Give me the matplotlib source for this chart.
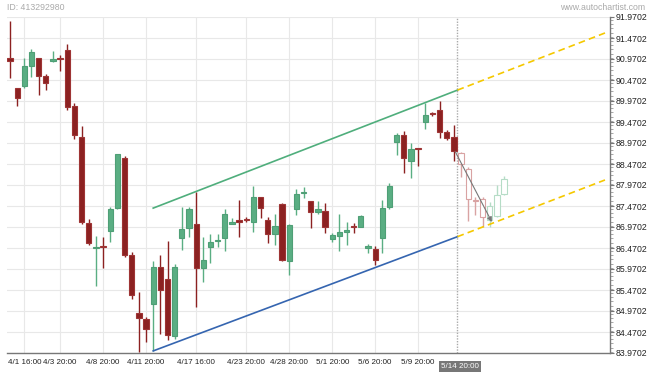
import matplotlib
matplotlib.use("Agg")
import matplotlib.pyplot as plt
import numpy as np
from matplotlib.ticker import MultipleLocator

plt.rcParams['font.family'] = ['Liberation Sans', 'DejaVu Sans']

# ---------------- data ----------------
opens = [90.99, 90.28, 90.33, 90.80, 90.99, 90.57, 90.93, 90.99, 91.18, 89.85,
         89.11, 87.07, 86.46, 86.51, 86.88, 87.42, 88.61, 86.30, 84.92, 84.78,
         85.14, 86.02, 85.73, 84.38, 86.71, 86.95, 87.04, 85.99, 86.49, 86.63,
         86.71, 87.05, 87.13, 87.15, 87.09, 87.69, 87.14, 86.80, 87.52, 86.16,
         87.40, 87.77, 87.59, 87.33, 87.35, 86.69, 86.76, 86.85, 86.98, 86.97,
         86.48, 86.45, 86.71, 87.45, 88.99, 89.16, 88.54, 88.84, 89.47, 89.67,
         89.76, 89.23, 89.11,
         88.73, 88.35, 87.60, 87.64, 87.14, 87.23, 87.76]
highs = [91.88, 90.28, 90.99, 91.21, 90.99, 90.61, 91.16, 91.07, 91.33, 89.92,
         89.38, 87.16, 86.76, 86.74, 87.45, 88.72, 88.66, 86.38, 85.42, 84.83,
         86.16, 86.30, 86.64, 86.09, 87.45, 87.45, 87.80, 86.74, 86.80, 86.80,
         87.40, 87.18, 87.61, 87.20, 87.95, 87.69, 87.20, 87.28, 87.54, 87.03,
         87.88, 87.92, 87.59, 87.59, 87.54, 86.83, 87.28, 87.09, 87.07, 87.26,
         86.57, 86.52, 87.61, 88.02, 89.21, 89.26, 88.97, 88.85, 89.92, 89.71,
         89.97, 89.28, 89.40,
         88.76, 88.40, 87.69, 87.69, 87.57, 87.97, 88.19]
lows = [90.52, 89.85, 90.28, 90.54, 90.11, 90.23, 90.90, 90.68, 89.76, 89.07,
        87.04, 86.54, 85.57, 85.99, 86.61, 87.40, 86.26, 85.26, 83.99, 84.23,
        84.02, 84.42, 84.28, 84.31, 86.42, 86.74, 85.07, 85.66, 86.11, 86.49,
        86.40, 87.04, 86.74, 87.09, 86.85, 87.18, 86.59, 86.54, 86.16, 85.83,
        87.26, 87.66, 86.95, 87.28, 86.83, 86.61, 86.40, 86.54, 86.83, 86.97,
        86.35, 86.07, 86.35, 87.40, 88.69, 88.26, 88.14, 88.42, 89.30, 89.62,
        89.09, 89.04, 88.54,
        88.16, 87.11, 87.26, 86.97, 86.97, 87.21, 87.73]
closes = [90.92, 90.04, 90.80, 91.14, 90.57, 90.40, 90.96, 90.96, 89.83, 89.16,
          87.09, 86.59, 86.49, 86.49, 87.40, 88.71, 86.30, 85.35, 84.80, 84.54,
          86.02, 85.47, 84.40, 86.02, 86.92, 87.40, 85.99, 86.18, 86.61, 86.65,
          87.28, 87.08, 87.10, 87.13, 87.69, 87.42, 86.80, 86.99, 86.18, 87.02,
          87.76, 87.79, 87.33, 87.40, 86.97, 86.78, 86.85, 86.90, 86.96, 87.23,
          86.51, 86.18, 87.42, 87.95, 89.16, 88.61, 88.83, 88.82, 89.64, 89.65,
          89.23, 89.09, 88.78,
          88.47, 87.64, 87.58, 87.21, 87.47, 87.73, 88.12]
n_actual = 63  # candles from index 63 on are the faded forecast

tick_idx = [2, 7, 13, 19, 26, 33, 39, 45, 51, 57]
tick_labels = ["4/1 16:00", "4/3 20:00", "4/8 20:00", "4/11 20:00", "4/17 16:00",
               "4/23 20:00", "4/28 20:00", "5/1 20:00", "5/6 20:00", "5/9 20:00"]
now_idx = 62.5
now_label = "5/14 20:00"

channel_x = [20, 62.5]
channel_upper = [87.42, 90.23]
channel_lower = [84.02, 86.74]
proj_x = [62.5, 83.1]
proj_upper = [90.23, 91.59]
proj_lower = [86.74, 88.09]
arrow_start = (62.2, 88.76)
arrow_end = (67.3, 87.09)

y_ticks = [83.9702 + 0.5 * k for k in range(17)]

# ---------------- figure ----------------
fig = plt.figure(figsize=(6.5, 3.72), dpi=100)
ax = fig.add_axes([7/650, 19/372, (610-7)/650, (353-17)/372])

RED = "#8c2121"
RED_EDGE = "#9e3434"
GREEN = "#5aae83"
GREEN_EDGE = "#4f9f76"
F_RED = "#d9a3a3"
F_GREEN = "#b5dcc6"

x = np.arange(len(opens))
o = np.array(opens); h = np.array(highs); l = np.array(lows); c = np.array(closes)
up = c >= o
bw = 0.74
for i in x:
    forecast = i >= n_actual
    if forecast:
        col = F_GREEN if up[i] else F_RED
        face = "white"
        edge = col
    else:
        col = GREEN if up[i] else RED
        face = col
        edge = GREEN_EDGE if up[i] else RED_EDGE
    ax.vlines(i, l[i], h[i], color=col, lw=1.0, zorder=3)
    bottom = min(o[i], c[i])
    height = max(abs(c[i] - o[i]), 0.025)
    ax.bar(i, height, bottom=bottom, width=bw, color=face, edgecolor=edge,
           linewidth=0.8, zorder=4)

# channel lines
ax.plot(channel_x, channel_upper, color="#4fae7c", lw=1.2, zorder=5)
ax.plot(channel_x, channel_lower, color="#3565b0", lw=1.2, zorder=5)
ax.plot(proj_x, proj_upper, color="#f5c800", lw=1.2, ls=(0, (4, 2.5)), zorder=5)
ax.plot(proj_x, proj_lower, color="#f5c800", lw=1.2, ls=(0, (4, 2.5)), zorder=5)

ax.annotate("", xy=arrow_end, xytext=arrow_start,
            arrowprops=dict(arrowstyle="-|>", color="#777777", lw=0.8,
                            mutation_scale=7, shrinkA=0, shrinkB=0), zorder=6)

# now line
ax.axvline(now_idx, color="#aaaaaa", lw=1.0, ls=(0, (1, 1)), zorder=2)

# axes
ax.set_xlim(-0.42, 83.8)
ax.set_ylim(83.9702, 91.9702)
ax.yaxis.tick_right()
ax.set_yticks(y_ticks)
ax.set_yticklabels([f"{v:.4f}" for v in y_ticks])
ax.yaxis.set_minor_locator(MultipleLocator(0.1))
ax.set_xticks(tick_idx)
ax.set_xticklabels(tick_labels)
ax.tick_params(axis="y", which="major", length=3, width=0.8, color="#777777",
               labelsize=6.3, pad=1, labelcolor="#222222")
ax.tick_params(axis="y", which="minor", length=2, width=0.6, color="#999999")
ax.tick_params(axis="x", which="major", length=0, labelsize=5.8, pad=4,
               labelcolor="#222222")
ax.grid(True, color="#e8e8e8", lw=0.8, zorder=0)
ax.set_axisbelow(True)
for s in ["left", "top"]:
    ax.spines[s].set_visible(False)
for s in ["right", "bottom"]:
    ax.spines[s].set_color("#777777")
    ax.spines[s].set_linewidth(1.0)

ax.text(62.9, -0.03, now_label, transform=ax.get_xaxis_transform(),
        ha="center", va="top", fontsize=5.8, color="white",
        bbox=dict(boxstyle="square,pad=0.25", fc="#777777", ec="none"))

fig.text(7/650, 1 - 7/372, "ID: 413292980", ha="left", va="center",
         fontsize=6.3, color="#aaaaaa")
fig.text(645/650, 1 - 7/372, "www.autochartist.com", ha="right", va="center",
         fontsize=6.3, color="#aaaaaa")

fig.savefig("out.png", dpi=100)
